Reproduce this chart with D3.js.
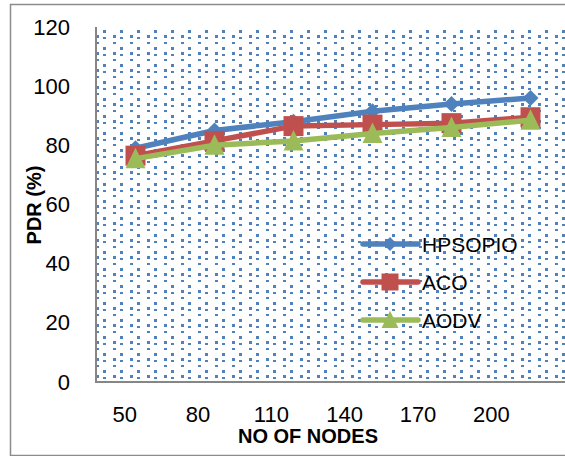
<!DOCTYPE html>
<html>
<head>
<meta charset="utf-8">
<script src="https://cdn.jsdelivr.net/npm/d3@7"></script>
<style>
  body { margin: 0; background: #fff; }
  text { font-family: "Liberation Sans", Arial, sans-serif; fill: #000; }
</style>
</head>
<body>
<div id="chart"></div>
<script>
// chart data
const nodes = ["50", "80", "110", "140", "170", "200"]
const hpsopio = [79, 85, 88, 91.5, 94, 96]
const aco = [76.5, 81.5, 86.5, 87, 87.5, 89.5]
const aodv = [75.5, 80, 81.5, 84, 86, 88.5]
const yTicks = [0, 20, 40, 60, 80, 100, 120]
const seriesNames = ["HPSOPIO", "ACO", "AODV"]

const width = 565, height = 456
const svg = d3.select("#chart").append("svg")
    .attr("width", width)
    .attr("height", height)

// dotted fill of the plot area
const defs = svg.append("defs")
const pat = defs.append("pattern")
    .attr("id", "dots")
    .attr("patternUnits", "userSpaceOnUse")
    .attr("x", 103).attr("y", 30)
    .attr("width", 17).attr("height", 17)
pat.selectAll("rect")
    .data([[0, 0, 3], [0, 7, 2], [10, 5, 3], [10, 12, 2]])
    .enter().append("rect")
    .attr("x", d => d[0]).attr("y", d => d[1])
    .attr("width", 3).attr("height", d => d[2])
    .attr("fill", "#4f81bd")

// outer chart border (right side is cut off in the picture)
svg.append("path")
    .attr("d", "M" + (width + 5) + ",4.5 H10.5 V455.5 H" + (width + 5))
    .attr("fill", "none")
    .attr("stroke", "#8c8c8c")
    .attr("stroke-width", 1.5)

const plot = {left: 96, top: 27, right: 570, bottom: 382}

let x = d3.scaleBand().domain(nodes).range([plot.left, plot.right])
// tick labels sit a little left of the markers in the original
let xLabel = d3.scaleBand().domain(nodes).range([88, 528])
let y = d3.scaleLinear().domain([0, 120]).range([plot.bottom, plot.top])

svg.append("rect")
    .attr("x", plot.left).attr("y", plot.top)
    .attr("width", plot.right - plot.left)
    .attr("height", plot.bottom - plot.top)
    .attr("fill", "url(#dots)")

// y axis
const yAxis = svg.append("g")
    .attr("transform", "translate(" + plot.left + ",0)")
    .call(d3.axisLeft(y).tickValues(yTicks).tickSize(0).tickPadding(26))
yAxis.select(".domain").remove()
yAxis.selectAll("text")
    .attr("font-size", 22)
    .style("font-family", "'Liberation Sans', Arial, sans-serif")
    .attr("fill", "#000")

// x tick labels
const xAxis = svg.append("g")
    .attr("transform", "translate(0," + plot.bottom + ")")
    .call(d3.axisBottom(xLabel).tickSize(0).tickPadding(24))
xAxis.select(".domain").remove()
xAxis.selectAll("text")
    .attr("font-size", 22)
    .style("font-family", "'Liberation Sans', Arial, sans-serif")
    .attr("fill", "#000")

// axis lines
svg.append("line")
    .attr("x1", plot.left).attr("x2", plot.left)
    .attr("y1", plot.top).attr("y2", plot.bottom + 1)
    .attr("stroke", "#868686").attr("stroke-width", 2)
svg.append("line")
    .attr("x1", plot.left).attr("x2", plot.right)
    .attr("y1", plot.bottom).attr("y2", plot.bottom)
    .attr("stroke", "#868686").attr("stroke-width", 2)

// axis titles
svg.append("text")
    .attr("transform", "translate(41,205) rotate(-90)")
    .attr("text-anchor", "middle")
    .attr("font-size", 20)
    .attr("font-weight", "bold")
    .text("PDR (%)")
svg.append("text")
    .attr("x", 308).attr("y", 443)
    .attr("text-anchor", "middle")
    .attr("font-size", 20)
    .attr("font-weight", "bold")
    .text("NO OF NODES")

const colors = ["#4f81bd", "#c0504d", "#9bbb59"]
const series = [hpsopio, aco, aodv]

function markerPath(i, s) {
    // s = half size
    if (i == 0) return "M0," + (-s) + "L" + s + ",0L0," + s + "L" + (-s) + ",0Z"
    if (i == 1) return "M" + (-s) + "," + (-s) + "H" + s + "V" + s + "H" + (-s) + "Z"
    return "M0," + (-s * 1.1) + "L" + s + "," + (s * 0.95) + "L" + (-s) + "," + (s * 0.95) + "Z"
}
const markerSize = [8, 10, 10]

const line = d3.line()
    .x((d, i) => x(nodes[i]) + x.bandwidth() / 2)
    .y(d => y(d))

series.forEach(function (vals, si) {
    const g = svg.append("g")
    g.append("path")
        .datum(vals)
        .attr("d", line)
        .attr("fill", "none")
        .attr("stroke", colors[si])
        .attr("stroke-width", 5.5)
        .attr("stroke-linejoin", "round")
    g.selectAll("path.marker")
        .data(vals)
        .enter().append("path")
        .attr("class", "marker")
        .attr("transform", (d, i) => "translate(" + (x(nodes[i]) + x.bandwidth() / 2) + "," + y(d) + ")")
        .attr("d", markerPath(si, markerSize[si]))
        .attr("fill", colors[si])
})

// legend
const legend = svg.append("g")
seriesNames.forEach(function (name, i) {
    const ly = 244 + i * 38
    legend.append("line")
        .attr("x1", 363).attr("x2", 418)
        .attr("y1", ly).attr("y2", ly)
        .attr("stroke", colors[i])
        .attr("stroke-width", 5.5)
        .attr("stroke-linecap", "round")
    legend.append("path")
        .attr("transform", "translate(390," + ly + ")")
        .attr("d", markerPath(i, [7, 8.5, 8.5][i]))
        .attr("fill", colors[i])
    legend.append("text")
        .attr("x", 422).attr("y", ly)
        .attr("dy", "0.36em")
        .attr("font-size", 21)
        .text(name)
})
</script>
</body>
</html>
